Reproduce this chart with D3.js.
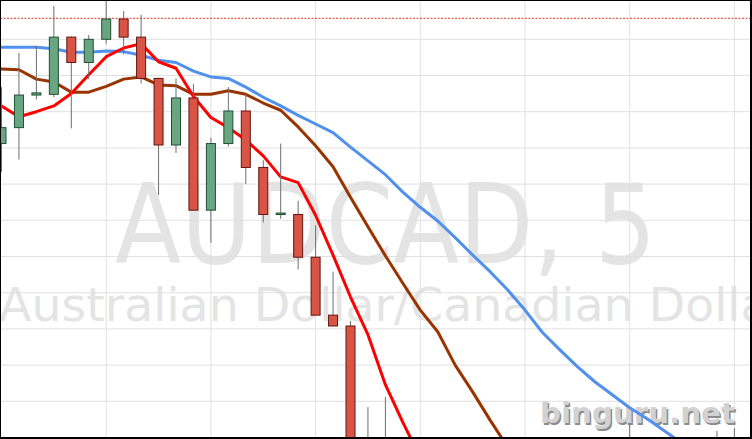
<!DOCTYPE html>
<html><head><meta charset="utf-8">
<script src="https://cdn.jsdelivr.net/npm/d3@7"></script>
<style>html,body{margin:0;padding:0;background:#fff;overflow:hidden}</style>
</head><body><svg id="c" width="752" height="439"></svg>
<script>
// ---- data (AUDCAD, M5) ----
const open  = [0.96806,0.96828,0.96873,0.96874,0.96953,0.96918,0.96950,0.96978,0.96953,0.96896,
               0.96804,0.96869,0.96714,0.96806,0.96851,0.96773,0.96708,0.96708,0.96649,0.96569,
               0.96554,0.96355,0.96328,0.96314,0.96250,0.96190,0.96150,0.96180,0.96220,0.96250,
               0.96280,0.96265,0.96310,0.96330,0.96355,0.96340,0.96370,0.96385,0.96350,0.96370,
               0.96360,0.96380,0.96390];
const high  = [0.96884,0.96931,0.96941,0.96996,0.96954,0.96956,0.97018,0.96989,0.96984,0.96897,
               0.96896,0.96888,0.96814,0.96884,0.96875,0.96783,0.96806,0.96727,0.96693,0.96629,
               0.96561,0.96442,0.96456,0.96370,0.96290,0.96230,0.96200,0.96240,0.96270,0.96300,
               0.96320,0.96330,0.96360,0.96370,0.96380,0.96385,0.96420,0.96395,0.96390,0.96392,
               0.96396,0.96409,0.96413];
const low   = [0.96767,0.96784,0.96867,0.96870,0.96827,0.96895,0.96944,0.96929,0.96889,0.96735,
               0.96793,0.96714,0.96669,0.96802,0.96750,0.96697,0.96702,0.96632,0.96569,0.96554,
               0.96341,0.96307,0.96286,0.96230,0.96180,0.96130,0.96120,0.96160,0.96200,0.96230,
               0.96250,0.96250,0.96290,0.96310,0.96320,0.96310,0.96350,0.96340,0.96330,0.96340,
               0.96340,0.96360,0.96370];
const close = [0.96828,0.96873,0.96876,0.96953,0.96918,0.96950,0.96978,0.96953,0.96896,0.96804,
               0.96869,0.96714,0.96806,0.96851,0.96773,0.96708,0.96710,0.96649,0.96569,0.96554,
               0.96355,0.96328,0.96314,0.96250,0.96190,0.96150,0.96180,0.96220,0.96250,0.96280,
               0.96265,0.96310,0.96330,0.96355,0.96340,0.96370,0.96385,0.96350,0.96370,0.96360,
               0.96380,0.96390,0.96395];
const maSlow = [0.96939,0.96939,0.96939,0.96937,0.96932,0.96932,0.96934,0.96933,0.96928,0.96921,
                0.96918,0.96906,0.96898,0.96896,0.96884,0.96870,0.96858,0.96845,0.96833,0.96821,
                0.96801,0.96782,0.96763,0.96739,0.96718,0.96699,0.96676,0.96652,0.96629,0.96604,
                0.96576,0.96545,0.96521,0.96498,0.96477,0.96459,0.96441,0.96426,0.96409,0.96392,0.96376];
const maMid  = [0.96909,0.96908,0.96895,0.96891,0.96877,0.96877,0.96885,0.96895,0.96898,0.96887,
                0.96886,0.96874,0.96874,0.96879,0.96874,0.96862,0.96852,0.96829,0.96803,0.96774,
                0.96732,0.96691,0.96651,0.96613,0.96576,0.96546,0.96500,0.96463,0.96424,0.96387,0.96350];
const maFast = [0.96858,0.96843,0.96850,0.96858,0.96875,0.96901,0.96926,0.96938,0.96944,0.96919,
                0.96910,0.96871,0.96842,0.96828,0.96811,0.96789,0.96760,0.96752,0.96707,0.96652,
                0.96594,0.96542,0.96473,0.96421,0.96372];
const gridPrices = [0.9695,0.9690,0.9685,0.9680,0.9675,0.9670,0.9665,0.9660,0.9655,0.9650,0.9645];
const gridBars = [6,12,18,24,30,36,42];
const alertPrice = 0.96979;
const titleText = "AUDCAD, 5";
const subtitleText = "Australian Dollar/Canadian Dollar";
const logoText = "binguru.net";

// ---- drawing ----
const W = 752, H = 439;
const svg = d3.select('#c');
const x = d3.scaleLinear().domain([0, 42]).range([1.5, 734.4]);
const y = d3.scaleLinear().domain([0.97, 0.964]).range([3.1, 437.5]);

svg.append('rect').attr('width', W).attr('height', H).attr('fill', '#fff');
svg.append('defs').append('clipPath').attr('id', 'clip')
  .append('rect').attr('x', 0).attr('y', 0).attr('width', W).attr('height', 437);
const g = svg.append('g').attr('clip-path', 'url(#clip)');

// watermark
g.append('text').text(titleText)
  .attr('x', 115).attr('y', 262.5)
  .attr('font-family', 'DejaVu Sans').attr('font-size', 110)
  .attr('textLength', 541).attr('lengthAdjust', 'spacingAndGlyphs')
  .attr('fill', '#e4e4e4');
g.append('text').text(subtitleText)
  .attr('x', -1).attr('y', 321)
  .attr('font-family', 'DejaVu Sans').attr('font-size', 47)
  .attr('textLength', 790).attr('lengthAdjust', 'spacingAndGlyphs')
  .attr('fill', '#e4e4e4');

// grid
g.selectAll('line.h').data(gridPrices).join('line').attr('class', 'h')
  .attr('x1', 0).attr('x2', W).attr('y1', d => y(d)).attr('y2', d => y(d))
  .attr('stroke', '#e0e0e0').attr('stroke-width', 1);
g.selectAll('line.v').data(gridBars).join('line').attr('class', 'v')
  .attr('x1', d => x(d)).attr('x2', d => x(d)).attr('y1', 0).attr('y2', H)
  .attr('stroke', '#e0e0e0').attr('stroke-width', 1);

// alert line
g.append('line').attr('x1', 0).attr('x2', W)
  .attr('y1', y(alertPrice)).attr('y2', y(alertPrice))
  .attr('stroke', '#e8341f').attr('stroke-width', 1).attr('stroke-dasharray', '2,1.5');

// logo
const logo = g.append('g');
logo.append('text').text(logoText).attr('x', 541.5).attr('y', 424.5)
  .attr('font-family', 'DejaVu Sans').attr('font-weight', 'bold').attr('font-size', 28.5)
  .attr('textLength', 195).attr('lengthAdjust', 'spacingAndGlyphs').attr('fill', '#8c8c8c');
logo.append('text').text(logoText).attr('x', 540).attr('y', 423)
  .attr('font-family', 'DejaVu Sans').attr('font-weight', 'bold').attr('font-size', 28.5)
  .attr('textLength', 195).attr('lengthAdjust', 'spacingAndGlyphs').attr('fill', '#d2d2d2');

// moving averages
const line = d3.line().x((d, i) => x(i)).y(d => y(d));
[[maSlow, '#5090ee'], [maMid, '#993300'], [maFast, '#ff0000']].forEach(([data, col]) => {
  g.append('path').datum(data).attr('d', line).attr('fill', 'none')
    .attr('stroke', col).attr('stroke-width', 3)
    .attr('stroke-linejoin', 'round').attr('stroke-linecap', 'round');
});

// candles
const bars = d3.range(open.length).map(i => ({i, o: open[i], h: high[i], l: low[i], c: close[i]}));
g.selectAll('line.wick').data(bars).join('line').attr('class', 'wick')
  .attr('x1', d => x(d.i)).attr('x2', d => x(d.i))
  .attr('y1', d => y(d.h)).attr('y2', d => y(d.l))
  .attr('stroke', '#6e6e6e').attr('stroke-width', 1);
g.selectAll('rect.body').data(bars).join('rect').attr('class', 'body')
  .attr('x', d => x(d.i) - 4.5).attr('width', 9)
  .attr('y', d => Math.min(y(d.o), y(d.c)))
  .attr('height', d => Math.max(1, Math.abs(y(d.o) - y(d.c))))
  .attr('fill', d => d.c >= d.o ? '#6aa582' : '#d85444')
  .attr('stroke', d => d.c >= d.o ? '#1e5032' : '#641410')
  .attr('stroke-width', 1);

// border
svg.append('rect').attr('x', 0).attr('y', 0).attr('width', 751).attr('height', 438)
  .attr('fill', 'none').attr('stroke', '#000').attr('stroke-width', 2);
</script></body></html>
